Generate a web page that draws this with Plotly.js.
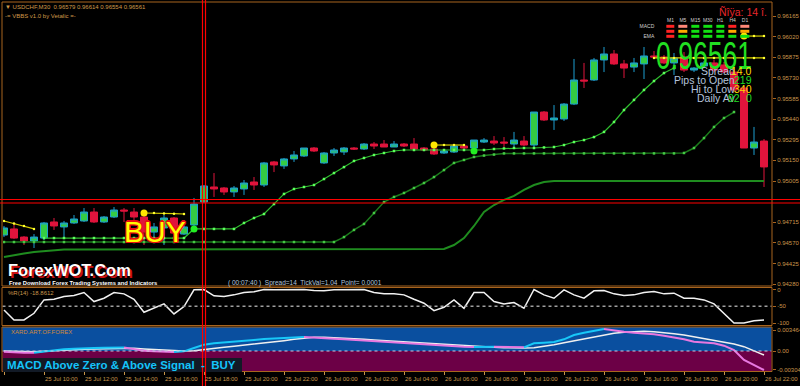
<!DOCTYPE html>
<html><head><meta charset="utf-8">
<script src="https://cdn.plot.ly/plotly-3.0.1.min.js"></script>
<style>html,body{margin:0;padding:0;background:#000;overflow:hidden}#chart{width:800px;height:386px}</style>
</head><body><div id="chart"></div>
<script>
// ---------------- DATA ----------------
const timeTickIdx = [0,4,8,12,16,20,24,28,32,36,40,44,48,52,56,60,64,68,72,76];
const timeLabels = ["25 Jul 2017","25 Jul 10:00","25 Jul 12:00","25 Jul 14:00","25 Jul 16:00","25 Jul 18:00","25 Jul 20:00","25 Jul 22:00","26 Jul 00:00","26 Jul 02:00","26 Jul 04:00","26 Jul 06:00","26 Jul 08:00","26 Jul 10:00","26 Jul 12:00","26 Jul 14:00","26 Jul 16:00","26 Jul 18:00","26 Jul 20:00","26 Jul 22:00"];

const opens = [0.94625,0.94668,0.94611,0.94583,0.94604,0.94717,0.94682,0.94710,0.94724,0.94787,
0.94717,0.94752,0.94801,0.94787,0.94752,0.94646,0.94675,0.94745,0.94632,0.94696,
0.94857,0.94963,0.94956,0.94928,0.94949,0.94998,0.94977,0.95139,0.95111,0.95160,
0.95181,0.95237,0.95132,0.95202,0.95209,0.95237,0.95230,0.95265,0.95265,0.95244,
0.95265,0.95265,0.95237,0.95230,0.95202,0.95209,0.95251,0.95237,0.95279,0.95286,
0.95279,0.95265,0.95286,0.95258,0.95490,0.95434,0.95441,0.95546,0.95715,0.95715,
0.95856,0.95898,0.95828,0.95806,0.95828,0.95884,0.95877,0.95835,0.95877,0.95785,
0.95814,0.95835,0.95821,0.95771,0.95659,0.95237,0.95286];
const highs = [0.94689,0.94703,0.94618,0.94632,0.94717,0.94745,0.94724,0.94766,0.94815,0.94815,
0.94759,0.94822,0.94815,0.94815,0.94766,0.94710,0.94766,0.94752,0.94689,0.94886,
0.94977,0.95061,0.94963,0.94970,0.95012,0.95033,0.95139,0.95146,0.95167,0.95216,
0.95237,0.95244,0.95209,0.95237,0.95244,0.95244,0.95272,0.95279,0.95293,0.95286,
0.95272,0.95307,0.95244,0.95237,0.95223,0.95265,0.95265,0.95293,0.95307,0.95321,
0.95314,0.95350,0.95321,0.95490,0.95497,0.95539,0.95553,0.95863,0.95835,0.95870,
0.95947,0.95926,0.95856,0.95870,0.95947,0.95919,0.95891,0.95905,0.95912,0.95806,
0.95849,0.95856,0.95842,0.95785,0.95673,0.95385,0.95300];
const lows = [0.94611,0.94597,0.94555,0.94534,0.94590,0.94661,0.94604,0.94703,0.94717,0.94710,
0.94710,0.94745,0.94717,0.94731,0.94555,0.94611,0.94555,0.94632,0.94625,0.94689,
0.94850,0.94893,0.94907,0.94893,0.94907,0.94942,0.94963,0.95068,0.95090,0.95139,
0.95174,0.95209,0.95125,0.95181,0.95188,0.95223,0.95223,0.95230,0.95244,0.95244,
0.95244,0.95230,0.95216,0.95188,0.95195,0.95202,0.95223,0.95230,0.95272,0.95258,
0.95244,0.95237,0.95251,0.95237,0.95427,0.95364,0.95427,0.95539,0.95659,0.95708,
0.95771,0.95821,0.95729,0.95771,0.95722,0.95863,0.95828,0.95750,0.95771,0.95771,
0.95806,0.95771,0.95764,0.95631,0.95237,0.95188,0.94963];
const closes = [0.94675,0.94604,0.94583,0.94611,0.94710,0.94689,0.94710,0.94738,0.94787,0.94717,
0.94752,0.94801,0.94794,0.94752,0.94646,0.94682,0.94745,0.94639,0.94682,0.94843,
0.94970,0.94949,0.94928,0.94956,0.94991,0.94977,0.95132,0.95118,0.95160,0.95188,
0.95237,0.95216,0.95202,0.95223,0.95237,0.95230,0.95265,0.95251,0.95244,0.95265,
0.95251,0.95230,0.95223,0.95195,0.95216,0.95251,0.95237,0.95293,0.95293,0.95272,
0.95272,0.95293,0.95258,0.95490,0.95434,0.95448,0.95546,0.95715,0.95708,0.95856,
0.95898,0.95828,0.95799,0.95835,0.95884,0.95877,0.95835,0.95870,0.95785,0.95799,
0.95835,0.95785,0.95771,0.95645,0.95237,0.95279,0.95104];

const trailFast = [null,null,null,null,0.94604,0.94604,0.94604,0.94604,0.94604,0.94604,
0.94604,0.94604,0.94604,0.94604,0.94604,0.94604,0.94604,0.94604,0.94604,0.94668,
0.94668,0.94668,0.94668,0.94668,0.94710,0.94745,0.94773,0.94843,0.94914,0.94949,
0.94963,0.94977,0.95019,0.95061,0.95103,0.95146,0.95167,0.95188,0.95202,0.95216,
0.95223,0.95223,0.95223,0.95223,0.95223,0.95223,0.95223,0.95223,0.95223,0.95230,
0.95234,0.95237,0.95237,0.95237,0.95241,0.95244,0.95258,0.95279,0.95293,0.95314,
0.95350,0.95420,0.95504,0.95575,0.95645,0.95708,0.95764,0.95799,null,null,
null,null,null,null,null,null,null];
const trailMid = [0.94576,0.94576,0.94576,0.94576,0.94576,0.94576,0.94576,0.94576,0.94576,0.94576,
0.94576,0.94576,0.94576,0.94576,0.94576,0.94576,0.94576,0.94576,0.94576,0.94576,
0.94576,0.94576,0.94576,0.94576,0.94576,0.94576,0.94576,0.94576,0.94576,0.94576,
0.94576,0.94576,0.94576,0.94576,0.94611,0.94661,0.94703,0.94780,0.94857,0.94893,
0.94921,0.94956,0.94991,0.95033,0.95082,0.95132,0.95153,0.95174,0.95184,0.95191,
0.95199,0.95199,0.95199,0.95199,0.95199,0.95199,0.95199,0.95199,0.95199,0.95199,
0.95199,0.95199,0.95199,0.95199,0.95199,0.95199,0.95199,0.95199,0.95202,0.95237,
0.95307,0.95385,0.95448,0.95490,null,null,null];
const trailSlow = [0.94471,0.94485,0.94495,0.94506,0.94513,0.94516,0.94523,0.94523,0.94523,0.94523,
0.94523,0.94523,0.94523,0.94523,0.94523,0.94523,0.94523,0.94523,0.94523,0.94523,
0.94523,0.94523,0.94523,0.94523,0.94523,0.94523,0.94523,0.94523,0.94523,0.94523,
0.94523,0.94523,0.94523,0.94523,0.94523,0.94523,0.94523,0.94523,0.94523,0.94523,
0.94523,0.94523,0.94523,0.94523,0.94527,0.94555,0.94604,0.94689,0.94787,0.94836,
0.94872,0.94900,0.94942,0.94977,0.94998,0.95005,0.95005,0.95005,0.95005,0.95005,
0.95005,0.95005,0.95005,0.95005,0.95005,0.95005,0.95005,0.95005,0.95005,0.95005,
0.95005,0.95005,0.95005,0.95005,0.95005,0.95005,0.95005];

const stopA_x = [0,1,2,3];            const stopA = [0.94724,0.94706,0.94689,0.94668];
const stopB_x = [14,15,16,17,18];     const stopB = [0.94780,0.94780,0.94777,0.94775,0.94773];
const stopC_x = [43,44,45,46];        const stopC = [0.95258,0.95258,0.95258,0.95258];
const stopD_x = [65,66,67,68,69,70,71,72,73,74,75,76];
const stopD = [0.95870,0.95870,0.95870,0.95870,0.95870,0.95870,0.95870,0.95870,0.95870,0.95870,0.95870,0.95870];
const stopE_x = [74,75,76];           const stopE = [0.96024,0.96024,0.96024];
const dotYellow_x = [14,43,74];       const dotYellow = [0.94780,0.95258,0.96024];
const dotGreen_x = [19,47];           const dotGreen = [0.94668,0.95216];

const wpr = [-61,-91,-91,-71,-31,-29,-21,-18,-9,-36,
-26,-9,-13,-29,-68,-56,-43,-73,-51,-1,
0,-19,-21,-16,-9,-7,0,-1,0,-1,
0,-3,-4,-1,-1,0,0,-9,-13,-13,
-16,-29,-41,-63,-53,-31,-56,-9,-9,-36,
-43,-39,-56,0,-16,-26,-1,-16,-26,-4,
-3,-13,-18,-16,-9,-6,-13,-11,-26,-26,
-31,-43,-71,-100,-100,-93,-91];

const macdMain = [-0.00011,-0.00022,-0.000275,-0.000275,-0.000055,0.000165,0.000275,0.000385,0.000495,0.00051,
0.000525,0.00055,0.000565,0.00033,0.000055,-0.000055,-0.00008,-0.000165,-0.000055,0.000495,
0.001045,0.001265,0.001375,0.001485,0.00165,0.001815,0.00198,0.00209,0.0022,0.002255,
0.00231,0.002255,0.002145,0.002035,0.001925,0.001815,0.001705,0.001595,0.001485,0.001375,
0.001265,0.001155,0.001045,0.000935,0.000825,0.00077,0.000715,0.00066,0.000688,0.000715,
0.00066,0.000605,0.000605,0.001265,0.001375,0.001485,0.001925,0.00264,0.003025,0.003355,
0.00363,0.003355,0.00319,0.003025,0.002915,0.00275,0.00253,0.002255,0.001925,0.00154,
0.00143,0.001265,0.00088,0.000165,-0.001485,-0.00231,-0.003135];
const macdSignal = [0,-0.000055,-0.00011,-0.00011,-0.000055,0.000055,0.00011,0.000165,0.000275,0.00033,
0.000385,0.00044,0.000495,0.00044,0.00033,0.00022,0.000165,0.000055,0,0.000055,
0.000275,0.00044,0.000605,0.00077,0.000935,0.0011,0.00132,0.00154,0.001705,0.001925,
0.00209,0.002255,0.002255,0.0022,0.002145,0.002035,0.001925,0.001815,0.001705,0.001595,
0.001485,0.001375,0.001265,0.001155,0.001045,0.000935,0.000825,0.000715,0.00066,0.000605,
0.00055,0.000495,0.000495,0.00055,0.00077,0.001045,0.001375,0.001705,0.002035,0.002365,
0.00264,0.002915,0.00308,0.00319,0.003245,0.00319,0.00308,0.00286,0.00264,0.002365,
0.00209,0.001815,0.001485,0.001155,0.000715,0.000055,-0.00066];

const priceTicks = [0.96165,0.96020,0.95875,0.95730,0.95585,0.95440,0.95295,0.95150,0.95005,0.94715,0.94570,0.94425,0.94280];
const wprTicks = [0,-50,-100];
const macdTicks = [0.003464,0,-0.003041];
const macdTickText = ["0.003464","0.00","-0.003041"];

const tableCols = ["M1","M5","M15","M30","H1","H4","D1"];
const tableRows = ["MACD","STR","EMA"];
const tableState = [[0,1,3,3,3,0,1],[0,2,3,3,3,2,2],[0,3,3,3,3,3,3]];

// ---------------- LAYOUT HELPERS ----------------
const PL=3, PT=3, PW=769, PH=368;
const fx = px => (px-PL)/PW;
const fy = py => (PT+PH-py)/PH;
const FRAME='#a8641e', LBL='#c8964b';
const N = opens.length;
const idx = opens.map((_,i)=>i);

const traces = [];
const ln = (x,y,color,width,extra) => Object.assign({type:'scatter',mode:'lines',x:x,y:y,xaxis:'x',yaxis:'y',line:{color:color,width:width},hoverinfo:'skip'},extra||{});

traces.push(ln(idx,trailSlow,'#1f8c1f',2));
traces.push(ln(idx,trailMid,'#1c7c1c',1.5,{mode:'lines+markers',marker:{symbol:'square',size:2.5,color:'#45c845'}}));
traces.push(ln(idx,trailFast,'#2fc02f',1.2,{mode:'lines+markers',marker:{symbol:'square',size:2.5,color:'#5cff5c'}}));

traces.push({type:'candlestick',x:idx,open:opens,high:highs,low:lows,close:closes,xaxis:'x',yaxis:'y',
  increasing:{line:{color:'#1c9ed0',width:1},fillcolor:'#34cc44'},
  decreasing:{line:{color:'#e0143c',width:1},fillcolor:'#e0143c'},
  whiskerwidth:0,hoverinfo:'skip'});

[[stopA_x,stopA],[stopB_x,stopB],[stopC_x,stopC],[stopD_x,stopD],[stopE_x,stopE]].forEach(s=>{
  traces.push(ln(s[0],s[1],'#d8d000',1.2,{mode:'lines+markers',marker:{size:2.5,color:'#ffff30'}}));
});
traces.push({type:'scatter',mode:'markers',x:dotYellow_x,y:dotYellow,xaxis:'x',yaxis:'y',marker:{size:7,color:'#ffe600'},hoverinfo:'skip'});
traces.push({type:'scatter',mode:'markers',x:dotGreen_x,y:dotGreen,xaxis:'x',yaxis:'y',marker:{size:7,color:'#22f022'},hoverinfo:'skip'});

// WPR
traces.push({type:'scatter',mode:'lines',x:idx,y:wpr,xaxis:'x',yaxis:'y2',line:{color:'#f2f2f2',width:1.5},hoverinfo:'skip'});

// MACD
traces.push({type:'scatter',mode:'lines',x:idx,y:macdSignal,xaxis:'x',yaxis:'y3',line:{color:'#f0f0f0',width:1.5},hoverinfo:'skip'});
const runs=[]; let cur=null;
for(let i=1;i<N;i++){
  const up = macdMain[i] > macdMain[i-1];
  if(!cur || cur.up!==up){cur={up:up,xs:[i-1],ys:[macdMain[i-1]]};runs.push(cur);}
  cur.xs.push(i); cur.ys.push(macdMain[i]);
}
runs.forEach(r=>traces.push({type:'scatter',mode:'lines',x:r.xs,y:r.ys,xaxis:'x',yaxis:'y3',line:{color:r.up?'#18c8f8':'#e878e0',width:2},hoverinfo:'skip'}));

// status table
traces.push({type:'heatmap',x:tableCols,y:tableRows,z:tableState,xaxis:'x4',yaxis:'y4',zmin:0,zmax:3,showscale:false,xgap:4,ygap:2,hoverinfo:'skip',
  colorscale:[[0,'#ff2222'],[0.1667,'#ff2222'],[0.1667,'#ff8878'],[0.5,'#ff8878'],[0.5,'#ffa800'],[0.8333,'#ffa800'],[0.8333,'#12e012'],[1,'#12e012']]});

// ---------------- SHAPES ----------------
const shapes = [
  {type:'rect',xref:'paper',yref:'y3',x0:fx(2.5),x1:fx(771.5),y0:0,y1:0.003959,fillcolor:'#0a4f9f',line:{width:0},layer:'below'},
  {type:'rect',xref:'paper',yref:'y3',x0:fx(2.5),x1:fx(771.5),y0:-0.0033,y1:0,fillcolor:'#6c0046',line:{width:0},layer:'below'},
  {type:'line',xref:'paper',yref:'y3',x0:fx(2.5),x1:fx(771.5),y0:0,y1:0,line:{color:'#c8c8e0',width:1.2,dash:'dot'}},
  {type:'line',xref:'paper',yref:'y2',x0:fx(2.5),x1:fx(771.5),y0:-50,y1:-50,line:{color:'#a0a0a0',width:1.5,dash:'dot'}},
  {type:'rect',xref:'paper',yref:'paper',x0:fx(2),x1:fx(772),y0:fy(286),y1:fy(2),line:{color:FRAME,width:1},fillcolor:'rgba(0,0,0,0)'},
  {type:'rect',xref:'paper',yref:'paper',x0:fx(2),x1:fx(772),y0:fy(325.5),y1:fy(287.5),line:{color:FRAME,width:1},fillcolor:'rgba(0,0,0,0)'},
  {type:'rect',xref:'paper',yref:'paper',x0:fx(2),x1:fx(772),y0:fy(371.5),y1:fy(327),line:{color:FRAME,width:1},fillcolor:'rgba(0,0,0,0)'},
  {type:'rect',xref:'paper',yref:'paper',x0:fx(3),x1:fx(242),y0:fy(372),y1:fy(358),fillcolor:'#121a26',line:{width:0}},
  // crosshair
  {type:'line',xref:'paper',yref:'paper',x0:fx(202.5),x1:fx(202.5),y0:fy(386),y1:fy(0),line:{color:'#ff0000',width:1.2}},
  {type:'line',xref:'paper',yref:'paper',x0:fx(205.5),x1:fx(205.5),y0:fy(386),y1:fy(0),line:{color:'#ff0000',width:1.2}},
  {type:'line',xref:'paper',yref:'paper',x0:fx(0),x1:fx(800),y0:fy(199.5),y1:fy(199.5),line:{color:'#ff0000',width:1.2}},
  {type:'line',xref:'paper',yref:'paper',x0:fx(0),x1:fx(800),y0:fy(203),y1:fy(203),line:{color:'#ff0000',width:1.2}}
];

// ---------------- ANNOTATIONS ----------------
const ann = [];
const A = (text,px,py,xa,size,color,extra) => { ann.push(Object.assign({text:text,xref:'paper',yref:'paper',x:fx(px),y:fy(py),xanchor:xa,yanchor:'middle',showarrow:false,font:{size:size,color:color}},extra||{})); return ann.length-1; };
A('▼ USDCHF,M30  0.96579 0.96614 0.96554 0.96561',3,7.5,'left',6,'#d09a4a');
A('-= VBBS v1.0 by Vetalic =-',3,16,'left',6,'#d09a4a');
A('Ñîÿa: 14 î.',769,12,'right',10.5,'#e8262c');
const bigIdx = A('0.96561',754,56,'right',34,'#22e022');
A('Spread',737,71,'right',10.5,'#b4c4dc');
A('Pips to Open',737,80,'right',10.5,'#b4c4dc');
A('Hi to Low',737,89,'right',10.5,'#b4c4dc');
A('Daily Av',737,98,'right',10.5,'#b4c4dc');
A('14.0',754,71,'right',10.5,'#ffd400');
A('219',754,80,'right',10.5,'#22dd22');
A('340',754,89,'right',10.5,'#ffd400');
A('92',742,98,'right',10.5,'#22dd22');
A('0',754,98,'right',10.5,'#22dd22');
// BUY with red outline
[[-1.3,0],[1.3,0],[0,-1.3],[0,1.3],[-1,-1],[1,1],[-1,1],[1,-1]].forEach(o=>A('BUY',155,231,'center',30,'#e81010',{xshift:o[0],yshift:o[1]}));
A('BUY',155,231,'center',30,'#ffff00');
A('<b>ForexWOT.Com</b>',6,270,'left',16.5,'#cc1010',{xshift:1.5,yshift:-1.5});
A('<b>ForexWOT.Com</b>',6,270,'left',16.5,'#ffffff');
A('<b>Free Download Forex Trading Systems and Indicators</b>',7,282.5,'left',5.8,'#ffffff');
A('( 00:07:40 )  Spread=14  TickVal=1.04  Point= 0.0001',226,282.5,'left',6.5,'#b4c4dc');
A('%R(14) -18.8612',6,293,'left',6,LBL);
A('XARD.ART.OF.FOREX',9,332,'left',6,'#d08a3a');
A('<b>MACD Above Zero &amp; Above Signal  -  BUY</b>',5,365,'left',11.5,'#14c4fa');
timeTickIdx.forEach((t,k)=>ann.push({text:timeLabels[k],xref:'x',yref:'paper',x:t-0.15,y:fy(379),xanchor:'left',yanchor:'middle',showarrow:false,font:{size:6,color:LBL}}));

// ---------------- AXES ----------------
const yCommon = {side:'right',anchor:'x',showgrid:false,zeroline:false,showline:false,ticks:'outside',ticklen:3,tickcolor:FRAME,tickfont:{size:6,color:LBL},fixedrange:true};
const layout = {
  width:800,height:386,margin:{l:PL,r:28,t:PT,b:15},
  paper_bgcolor:'#000',plot_bgcolor:'rgba(0,0,0,0)',showlegend:false,
  boxgap:0,boxgroupgap:0.3,
  font:{family:"'Liberation Sans',Arial,sans-serif",color:LBL},
  xaxis:{domain:[0,1],anchor:'y3',range:[-0.1,76.8],showgrid:false,zeroline:false,showline:false,ticks:'outside',ticklen:3,tickcolor:LBL,tickvals:timeTickIdx,showticklabels:false,rangeslider:{visible:false},fixedrange:true},
  yaxis:Object.assign({},yCommon,{domain:[fy(286),1],range:[0.942669,0.962564],tickvals:priceTicks,ticktext:priceTicks.map(v=>v.toFixed(5))}),
  yaxis2:Object.assign({},yCommon,{domain:[fy(325.5),fy(288)],range:[-107.46,4.48],tickvals:wprTicks,ticktext:wprTicks.map(String)}),
  yaxis3:Object.assign({},yCommon,{domain:[0,fy(327)],range:[-0.0033,0.003959],tickvals:macdTicks,ticktext:macdTickText}),
  xaxis4:{domain:[fx(664.3),fx(751.2)],anchor:'y4',type:'category',side:'top',showgrid:false,zeroline:false,showline:false,ticks:'',tickfont:{size:5,color:'#d0d0d0'},fixedrange:true},
  yaxis4:{domain:[fy(39),fy(23.8)],anchor:'x4',type:'category',autorange:'reversed',showgrid:false,zeroline:false,showline:false,ticks:'outside',ticklen:8,tickcolor:'rgba(0,0,0,0)',tickfont:{size:5,color:'#d0d0d0'},fixedrange:true},
  shapes:shapes,annotations:ann
};
Plotly.newPlot('chart',traces,layout,{staticPlot:true,displayModeBar:false}).then(gd=>{
  // the big price readout is a tall, condensed face in the original: squeeze it horizontally
  const g = gd.querySelectorAll('.annotation')[bigIdx];
  const t = g && g.querySelector('text');
  if(t){
    const bb = t.getBBox();
    const cx = bb.x + bb.width, cy = bb.y + bb.height/2;
    t.setAttribute('transform','translate('+cx+','+cy+') scale(0.78,1.12) translate('+(-cx)+','+(-cy)+')');
  }
});
</script></body></html>
